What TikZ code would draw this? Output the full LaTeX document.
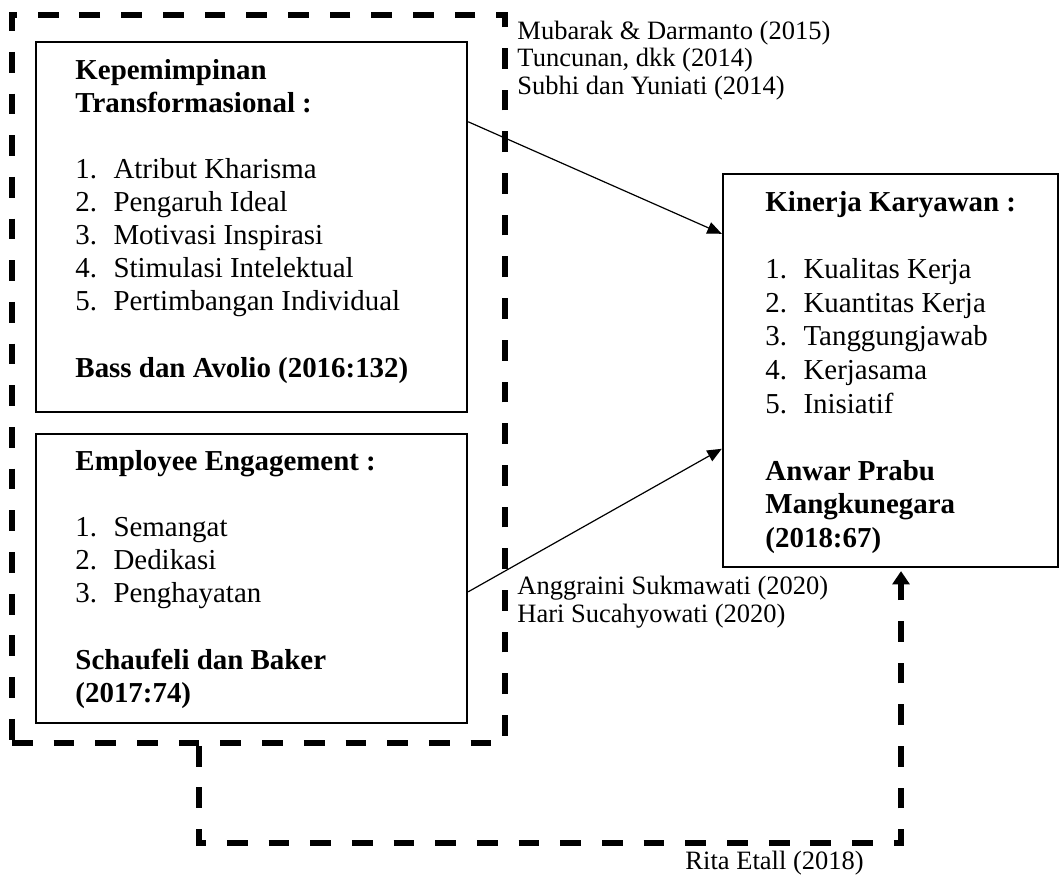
\documentclass[tikz,border=0pt]{standalone}
\usepackage{fontspec}
\setmainfont{Liberation Serif}
\usetikzlibrary{arrows.meta,positioning,fit,calc}

\newcommand{\listno}[1]{\makebox[15.8pt][l]{#1.}}

\begin{document}
\begin{tikzpicture}[x=0.415pt, y=-0.415pt,
        box/.style={draw, line width=1pt, inner sep=0pt},
        grpbox/.style={draw, line width=2.3pt, dash pattern=on 8.6pt off 8.7pt, inner sep=0pt},
        grpline/.style={line width=2.3pt, dash pattern=on 8.6pt off 8.7pt},
        txt/.style={anchor=base west, inner sep=0pt, font=\fontsize{12}{14}\selectfont},
        hd/.style={anchor=base west, inner sep=0pt, font=\fontsize{12}{14}\selectfont\bfseries},
        bib/.style={anchor=base west, inner sep=0pt, font=\fontsize{11}{13}\selectfont},
        link/.style={line width=0.5pt, -{Triangle[length=6pt,width=5pt]}}]
    \useasboundingbox (0,0) rectangle (1061,875);
    % Kepemimpinan Transformasional
    \node[box, fit={(36,42) (467,412)}] (kt) {};
    \node[hd] (kt1) at (75,80) {Kepemimpinan};
    \node[hd] (kt2) at (75,113) {Transformasional :};
    \foreach \i/\t in {1/Atribut Kharisma, 2/Pengaruh Ideal, 3/Motivasi Inspirasi,
            4/Stimulasi Intelektual, 5/Pertimbangan Individual}
        \node[txt] (kti\i) at (75,146+33*\i) {\listno{\i}\t};
    \node[hd] (ktsrc) at (75,377) {Bass dan Avolio (2016:132)};
    % Employee Engagement
    \node[box, fit={(36,434) (467,723)}] (ee) {};
    \node[hd] (ee1) at (75,470) {Employee Engagement :};
    \foreach \i/\t in {1/Semangat, 2/Dedikasi, 3/Penghayatan}
        \node[txt] (eei\i) at (75,503+33*\i) {\listno{\i}\t};
    \node[hd] (eesrc1) at (75,669) {Schaufeli dan Baker};
    \node[hd] (eesrc2) at (75,702) {(2017:74)};
    % Kinerja Karyawan
    \node[box, fit={(723,174) (1058,567)}] (kk) {};
    \node[hd] (kk1) at (765,212) {Kinerja Karyawan :};
    \foreach \i/\t in {1/Kualitas Kerja, 2/Kuantitas Kerja, 3/Tanggungjawab,
            4/Kerjasama, 5/Inisiatif}
        \node[txt] (kki\i) at (765,245.5+33.5*\i) {\listno{\i}\t};
    \node[hd] (kksrc1) at (765,480) {Anwar Prabu};
    \node[hd] (kksrc2) at (765,513.5) {Mangkunegara};
    \node[hd] (kksrc3) at (765,547) {(2018:67)};
    % dashed group round both X boxes
    \node[grpbox, fit={(12,15) (505,743)}] (grp) {};
    % partial links
    \draw[link] ($(kt.north east)+(0,81)$) -- ($(kk.north west)+(0,61)$);
    \draw[link] ($(ee.north east)+(0,159)$) -- ($(kk.north west)+(0,276)$);
    \foreach \n/\y/\t in {1/40/Mubarak \& Darmanto (2015), 2/67/{Tuncunan, dkk (2014)},
            3/95/Subhi dan Yuniati (2014)}
        \node[bib] (ref\n) at (517,\y) {\t};
    \node[bib] (ref4) at (517,594) {Anggraini Sukmawati (2020)};
    \node[bib] (ref5) at (517,622) {Hari Sucahyowati (2020)};
    % simultaneous link
    \coordinate (lturn) at (199,843);
    \coordinate (rturn) at (901,843);
    \draw[grpline, -{Triangle[length=5.5pt,width=7pt]}] (grp.south -| lturn) -- (lturn)
        -- (rturn) -- ([yshift=-1.2pt]kk.south -| rturn);
    \node[bib] (ref6) at (685,869) {Rita Etall (2018)};
\end{tikzpicture}
\end{document}
